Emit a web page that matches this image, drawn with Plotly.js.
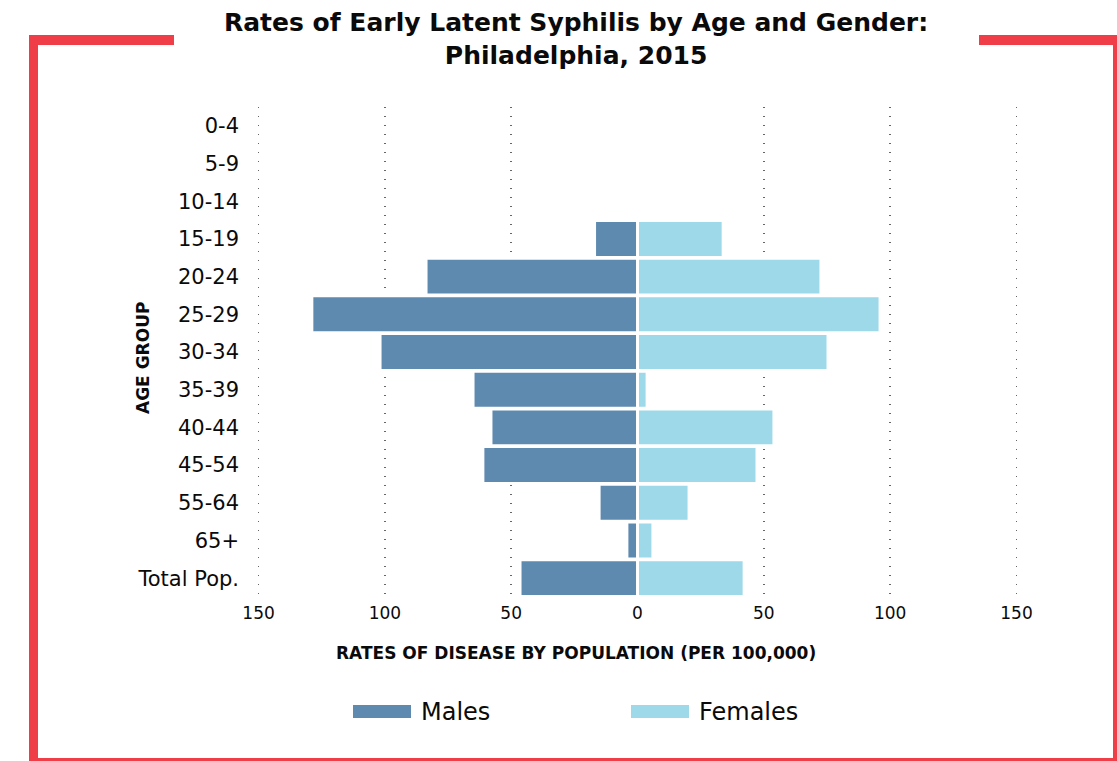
<!DOCTYPE html>
<html>
<head>
<meta charset="utf-8">
<script src="https://cdn.plot.ly/plotly-3.0.1.min.js"></script>
<style>
html,body{margin:0;padding:0;background:#fff;}
#chart{width:1117px;height:761px;}
</style>
</head>
<body>
<div id="chart"></div>
<script>
// ---- data ----
const ageGroups = ["0-4","5-9","10-14","15-19","20-24","25-29","30-34","35-39","40-44","45-54","55-64","65+","Total Pop."];
const maleRates = [0.3, 0.3, 0.3, 17.0, 83.7, 128.9, 101.9, 65.1, 58.0, 61.2, 15.2, 4.2, 46.5];
const femaleRates = [0.3, 0.3, 0.3, 33.9, 72.6, 96.0, 75.4, 3.8, 54.0, 47.3, 20.4, 6.1, 42.2];
const tickValues = [-150, -100, -50, 0, 50, 100, 150];
const tickLabels = ["150", "100", "50", "0", "50", "100", "150"];
const seriesNames = ["Males", "Females"];

// ---- styles ----
const maleColor = "#5E8AB0";
const femaleColor = "#9DD9E8";
const frameColor = "#EF3E48";
const FONT = "DejaVu Sans, Open Sans, sans-serif";

const W = 1117, H = 761;
const M = {l: 256, r: 98, t: 107, b: 164};
const PW = W - M.l - M.r, PH = H - M.t - M.b;
const px = x => (x - M.l) / PW;
const py = y => (M.t + PH - y) / PH;

function rect(x0, y0, x1, y1, color) {
  return {type: "rect", xref: "paper", yref: "paper",
    x0: px(x0), x1: px(x1), y0: py(y1), y1: py(y0),
    fillcolor: color, line: {width: 0}, layer: "above"};
}

const traces = [
  {type: "bar", orientation: "h", name: seriesNames[0], y: ageGroups,
   x: maleRates.map(v => -v), marker: {color: maleColor, line: {color: "#ffffff", width: 3}},
   showlegend: false, hoverinfo: "skip"},
  {type: "bar", orientation: "h", name: seriesNames[1], y: ageGroups,
   x: femaleRates, marker: {color: femaleColor, line: {color: "#ffffff", width: 3}},
   showlegend: false, hoverinfo: "skip"}
];

const shapes = [
  // red frame
  rect(29, 35, 38, 761, frameColor),
  rect(29, 35, 174, 45, frameColor),
  rect(979, 35, 1117, 45, frameColor),
  rect(1113, 35, 1117, 761, frameColor),
  rect(29, 758, 1117, 761, frameColor),
  // legend swatches
  rect(353, 705, 411, 718, maleColor),
  rect(631, 705, 689, 718, femaleColor)
];

const annotations = [
  {xref: "paper", yref: "paper", x: px(576), y: py(39), xanchor: "center", yanchor: "middle",
   text: "<b>Rates of Early Latent Syphilis by Age and Gender:<br>Philadelphia, 2015</b>",
   showarrow: false, font: {family: FONT, size: 25, color: "#0a0a0a"}},
  {xref: "paper", yref: "paper", x: px(576), y: py(653), xanchor: "center", yanchor: "middle",
   text: "<b>RATES OF DISEASE BY POPULATION (PER 100,000)</b>", showarrow: false,
   font: {family: FONT, size: 17, color: "#0a0a0a"}},
  {xref: "paper", yref: "paper", x: px(143), y: py(358), xanchor: "center", yanchor: "middle",
   text: "<b>AGE GROUP</b>", textangle: -90, showarrow: false,
   font: {family: FONT, size: 17, color: "#0a0a0a"}},
  {xref: "paper", yref: "paper", x: px(419), y: py(712), xanchor: "left", yanchor: "middle",
   text: seriesNames[0], showarrow: false, font: {family: FONT, size: 24, color: "#0a0a0a"}},
  {xref: "paper", yref: "paper", x: px(697), y: py(712), xanchor: "left", yanchor: "middle",
   text: seriesNames[1], showarrow: false, font: {family: FONT, size: 24, color: "#0a0a0a"}}
];

const layout = {
  width: W, height: H,
  margin: M,
  paper_bgcolor: "#ffffff", plot_bgcolor: "#ffffff",
  barmode: "overlay", bargap: 0.02,
  xaxis: {range: [-151, 151], tickvals: tickValues, ticktext: tickLabels,
    showgrid: true, gridcolor: "#666", griddash: "1px,8px", gridwidth: 1.5,
    zeroline: false, showline: false, ticks: "", ticklabelstandoff: 4,
    tickfont: {family: FONT, size: 17, color: "#0a0a0a"}, fixedrange: true},
  yaxis: {type: "category", categoryorder: "array", categoryarray: ageGroups,
    autorange: "reversed", showgrid: false, zeroline: false, showline: false, ticks: "",
    ticklabelstandoff: 16,
    tickfont: {family: FONT, size: 21, color: "#0a0a0a"}, fixedrange: true},
  shapes: shapes,
  annotations: annotations,
  showlegend: false
};

Plotly.newPlot("chart", traces, layout, {displayModeBar: false, staticPlot: true});
</script>
</body>
</html>
